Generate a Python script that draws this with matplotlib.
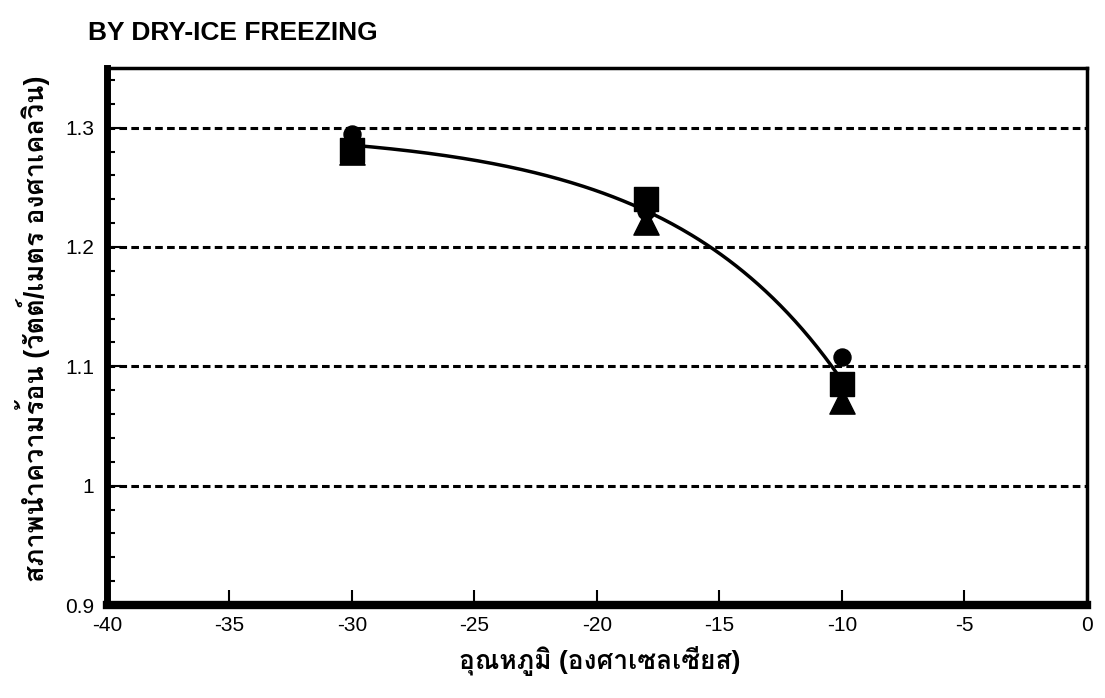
import numpy as np
import matplotlib
matplotlib.use("Agg")
import matplotlib.pyplot as plt
from matplotlib import font_manager, ft2font
from matplotlib.ticker import MultipleLocator

# อุณหภูมิ (°C) and thermal conductivity values
temps = [-30, -18, -10]
circle_vals = [1.295, 1.230, 1.108]
square_vals = [1.281, 1.240, 1.085]
triangle_vals = [1.280, 1.221, 1.071]

title = "BY DRY-ICE FREEZING"
xlabel = "อุณหภูมิ (องศาเซลเซียส)"
ylabel = "สภาพนำความร้อน (วัตต์/เมตร องศาเคลวิน)"

# look for an installed family that has Thai glyphs
thai_family = None
for f in font_manager.fontManager.ttflist:
    try:
        if 0x0E01 in ft2font.FT2Font(f.fname).get_charmap():
            thai_family = f.name
            if f.weight in ('bold', 700):
                break
    except Exception:
        pass

families = ['Liberation Sans', 'DejaVu Sans']
if thai_family:
    families.append(thai_family)
plt.rcParams['font.family'] = families

fig = plt.figure(figsize=(11.05, 6.98), dpi=100)
ax = fig.add_axes([0.0968, 0.1332, 0.8869, 0.7694])

# dashed gridlines
for yv in [1.0, 1.1, 1.2, 1.3]:
    ax.axhline(yv, color='black', lw=2.2, ls=(0, (2.5, 1.4)), zorder=1)

# trend curve y = a - b*exp(c*x) fitted through the mean of each temperature
tx = np.array(temps, dtype=float)
my = (np.array(circle_vals) + np.array(square_vals) + np.array(triangle_vals)) / 3
ratio = (my[0] - my[1]) / (my[1] - my[2])
lo, hi = 1e-4, 1.0
for _ in range(100):
    c = (lo + hi) / 2
    r = (np.exp(c * tx[1]) - np.exp(c * tx[0])) / (np.exp(c * tx[2]) - np.exp(c * tx[1]))
    if r > ratio:
        lo = c
    else:
        hi = c
b = (my[1] - my[2]) / (np.exp(c * tx[2]) - np.exp(c * tx[1]))
a = my[2] + b * np.exp(c * tx[2])
xs = np.linspace(tx.min(), tx.max(), 200)
ax.plot(xs, a - b * np.exp(c * xs), color='black', lw=2.5, zorder=3)

ax.scatter(temps, triangle_vals, marker='^', s=330, color='black', zorder=4)
ax.scatter(temps, circle_vals, marker='o', s=150, color='black', zorder=4)
ax.scatter(temps, square_vals, marker='s', s=290, color='black', zorder=5)

ax.set_xlim(-40, 0)
ax.set_ylim(0.9, 1.35)
ax.yaxis.set_minor_locator(MultipleLocator(0.02))
ax.set_yticks([0.9, 1.0, 1.1, 1.2, 1.3])
ax.set_yticklabels(['0.9', '1', '1.1', '1.2', '1.3'])
ax.set_xticks([-40, -35, -30, -25, -20, -15, -10, -5, 0])
ax.set_xticklabels(['-40', '-35', '-30', '-25', '-20', '-15', '-10', '-5', '0'])

ax.tick_params(axis='both', direction='in', labelsize=15, width=1.5, colors='black')
ax.tick_params(axis='x', length=11, pad=8)
ax.tick_params(axis='y', which='major', length=10, pad=9)
ax.tick_params(axis='y', which='minor', length=6, width=1.5, direction='in')

ax.spines['left'].set_linewidth(5)
ax.spines['bottom'].set_linewidth(6)
ax.spines['top'].set_linewidth(2.5)
ax.spines['right'].set_linewidth(2.5)

ax.set_xlabel(xlabel, fontsize=19, fontweight='bold', labelpad=8)
ax.set_ylabel(ylabel, fontsize=19.5, fontweight='bold')
ax.yaxis.set_label_coords(-0.058, 0.515)
ax.xaxis.set_label_coords(0.503, -0.077)

fig.text(0.08, 0.953, title, fontsize=19, fontweight='bold', va='center', ha='left')

fig.savefig("out.png", dpi=100)
